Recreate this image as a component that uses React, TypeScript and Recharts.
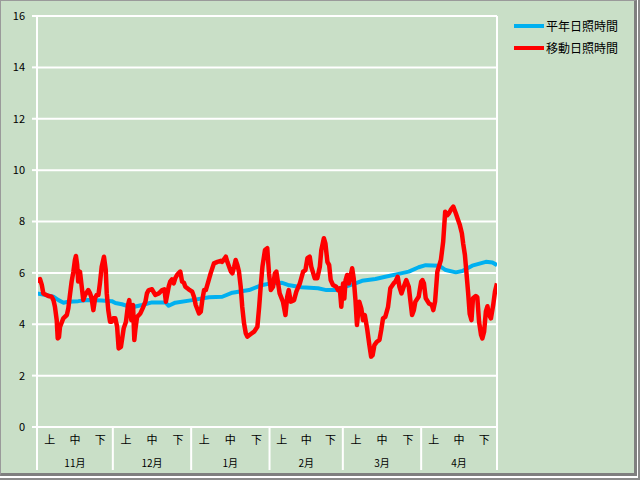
import { LineChart, Line, XAxis, YAxis, CartesianGrid, ReferenceLine } from 'recharts';

const monthNames = ['11月', '12月', '1月', '2月', '3月', '4月'];
const monthDays = [30, 31, 31, 29, 31, 30];
const decadeNames = ['上', '中', '下'];
const yTicks = [0, 2, 4, 6, 8, 10, 12, 14, 16];

// [day since Nov 1, hours]
const moving: [number, number][] = [
  [0, 5.66], [1.2, 5.76], [1.9, 5.53], [2.5, 5.2], [4.5, 5.1], [5.8, 5.07], [6.5, 4.94], [7.1, 4.68],
  [7.8, 4.16], [8.2, 3.45], [8.7, 3.5], [9.1, 3.9], [10.4, 4.23], [11.8, 4.36], [12.4, 4.62], [13.1, 5.2],
  [13.7, 5.66], [14.4, 6.05], [15.0, 6.5], [15.4, 6.66], [15.9, 6.3], [16.3, 5.66], [17.0, 6.05], [17.7, 5.46],
  [18.3, 4.94], [19.0, 5.14], [20.3, 5.33], [21.0, 5.2], [21.6, 5.02], [22.3, 4.55], [23.0, 5.02], [23.6, 5.14],
  [24.3, 5.14], [24.9, 5.6], [25.6, 6.24], [26.5, 6.63], [27.2, 6.11], [27.6, 5.2], [28.2, 4.55], [28.9, 4.1],
  [29.6, 4.1], [30.2, 4.23], [31.0, 4.23], [31.7, 3.9], [32.3, 3.06], [33.2, 3.12], [34.3, 3.84], [35.2, 4.1],
  [36.0, 4.75], [36.5, 4.94], [36.9, 4.55], [37.3, 4.16], [38.0, 4.75], [38.5, 3.39], [38.9, 3.78], [39.6, 4.29],
  [40.9, 4.42], [41.8, 4.62], [42.9, 4.88], [43.5, 5.2], [44.2, 5.33], [45.5, 5.36], [46.8, 5.14], [48.2, 5.2],
  [49.5, 5.33], [50.4, 5.36], [51.0, 4.88], [52.1, 5.46], [52.7, 5.66], [53.4, 5.75], [54.1, 5.59], [54.7, 5.79],
  [55.4, 5.92], [56.1, 6.0], [56.7, 6.05], [57.4, 5.66], [58.1, 5.62], [58.7, 5.46], [60.0, 5.36], [61.4, 5.27],
  [62.1, 5.07], [62.8, 4.75], [64.1, 4.42], [64.8, 4.49], [65.4, 4.94], [66.1, 5.33], [66.8, 5.33], [67.4, 5.53],
  [68.7, 5.98], [70.0, 6.37], [71.4, 6.43], [72.7, 6.47], [73.3, 6.43], [74.7, 6.63], [75.3, 6.43], [76.7, 6.05],
  [77.3, 5.98], [78.0, 6.24], [78.6, 6.5], [79.3, 6.3], [79.9, 6.05], [80.6, 5.46], [81.2, 4.68], [81.9, 4.04],
  [82.6, 3.65], [83.2, 3.52], [84.6, 3.62], [85.9, 3.71], [87.2, 3.9], [87.9, 4.68], [88.5, 5.46], [89.2, 6.24],
  [90.2, 6.89], [91.1, 6.96], [91.8, 5.98], [92.5, 5.33], [93.4, 5.46], [94.1, 5.98], [94.7, 6.05], [95.4, 5.59],
  [96.0, 5.2], [97.3, 4.88], [98.3, 4.36], [99.0, 5.07], [99.6, 5.33], [100.4, 4.88], [101.7, 4.94], [102.6, 5.27],
  [104.0, 5.59], [105.3, 6.05], [106.2, 6.11], [107.0, 6.57], [107.9, 6.63], [108.5, 6.24], [109.9, 5.79], [110.9, 5.79],
  [111.9, 6.24], [112.5, 6.89], [113.5, 7.35], [114.1, 7.15], [114.9, 6.43], [115.6, 6.3], [116.2, 5.72], [117.1, 5.53],
  [118.4, 5.46], [119.1, 5.33], [119.8, 5.4], [120.4, 4.68], [121.1, 5.59], [121.6, 5.0], [122.1, 5.72], [122.7, 5.92],
  [123.4, 5.59], [124.0, 5.85], [124.7, 6.18], [125.3, 5.79], [126.0, 4.94], [126.6, 3.97], [127.5, 4.88], [128.3, 4.62],
  [129.0, 4.16], [129.7, 4.36], [130.6, 3.84], [131.5, 3.19], [132.2, 2.74], [132.8, 2.8], [133.5, 3.19], [134.5, 3.32],
  [135.5, 3.39], [136.2, 3.78], [136.9, 4.23], [137.8, 4.29], [138.9, 4.68], [139.8, 5.4], [141.1, 5.59], [141.8, 5.66],
  [142.7, 5.85], [143.4, 5.46], [144.2, 5.2], [145.1, 5.46], [146.1, 5.72], [147.1, 5.46], [147.7, 4.94], [148.4, 4.36],
  [149.1, 4.55], [149.7, 4.88], [151.0, 5.07], [152.0, 5.66], [152.5, 5.72], [153.1, 5.59], [153.8, 5.01], [155.1, 4.81],
  [156.2, 4.75], [156.8, 4.55], [157.5, 4.88], [158.4, 6.05], [159.8, 6.5], [160.7, 7.21], [161.5, 8.38], [162.4, 8.25],
  [163.0, 8.32], [163.7, 8.45], [164.7, 8.58], [165.7, 8.32], [166.6, 8.06], [167.3, 7.86], [168.1, 7.54], [168.6, 7.15],
  [169.3, 6.7], [170.0, 5.9], [170.6, 5.2], [171.2, 4.4], [171.9, 4.16], [172.5, 5.01], [173.6, 5.1], [174.2, 5.05],
  [174.9, 4.1], [175.7, 3.58], [176.2, 3.45], [176.9, 3.71], [177.6, 4.5], [178.2, 4.7], [178.9, 4.36], [179.6, 4.23],
  [180.5, 4.75], [181.2, 5.27], [182.0, 5.59],
];

const normal: [number, number][] = [
  [0, 5.2], [3, 5.15], [6.5, 5.07], [8.5, 4.94], [10.5, 4.84], [12.4, 4.88], [16.3, 4.9], [20.3, 4.94],
  [25.6, 4.92], [29.6, 4.9], [31, 4.83], [33.6, 4.78], [37.6, 4.66], [41.6, 4.75], [45.5, 4.85], [50.8, 4.85],
  [52.1, 4.72], [54.7, 4.84], [61.4, 4.94], [68.1, 5.05], [73.3, 5.07], [77.3, 5.23], [83.9, 5.33], [89.2, 5.53],
  [92.5, 5.59], [96.7, 5.62], [99.3, 5.53], [104.6, 5.44], [111.2, 5.4], [114.5, 5.33], [117.9, 5.33], [121.8, 5.46],
  [126, 5.59], [128.6, 5.69], [133.9, 5.76], [137.8, 5.85], [143.1, 5.96], [147.1, 6.05], [151.0, 6.22], [153.8, 6.3],
  [159.1, 6.28], [161.7, 6.11], [165.7, 6.02], [168.3, 6.07], [172.2, 6.28], [177.6, 6.43], [180.2, 6.4], [182, 6.3],
];

const movingData = moving.map(([day, v]) => ({ day, v }));
const normalData = normal.map(([day, v]) => ({ day, v }));

// month boundaries and decade centers on the day axis
const bounds: number[] = [0];
monthDays.forEach((d, i) => bounds.push(bounds[i] + d));
const totalDays = bounds[bounds.length - 1];

const tickInfo = new Map<number, { kind: 'sep' } | { kind: 'dec'; text: string; month?: string }>();
bounds.forEach((b) => tickInfo.set(b, { kind: 'sep' }));
monthDays.forEach((d, i) => {
  decadeNames.forEach((name, j) => {
    const c = bounds[i] + (d * (2 * j + 1)) / 6;
    tickInfo.set(c, { kind: 'dec', text: name, month: j === 1 ? monthNames[i] : undefined });
  });
});
const xTicks = Array.from(tickInfo.keys()).sort((a, b) => a - b);

const GREEN = '#c9dfc7';
const FONT = '"Noto Sans CJK JP", "Noto Sans", sans-serif';

function XTick(props: any) {
  const { x, y, payload } = props;
  const info = tickInfo.get(payload.value);
  if (!info) return <g />;
  if (info.kind === 'sep') {
    return <line x1={x} y1={y} x2={x} y2={y + 43} stroke="#ffffff" strokeWidth={2} />;
  }
  return (
    <g>
      <text x={x} y={y + 12} textAnchor="middle" dominantBaseline="central" fontSize={11} fill="#000" fontFamily={FONT}>
        {info.text}
      </text>
      {info.month && (
        <text x={x} y={y + 35} textAnchor="middle" dominantBaseline="central" fontSize={10} fill="#000" fontFamily={FONT}>
          {info.month}
        </text>
      )}
    </g>
  );
}

function LegendRow({ color, label, top }: { color: string; label: string; top: number }) {
  return (
    <div style={{ position: 'absolute', left: 514, top, height: 16, display: 'flex', alignItems: 'center' }}>
      <div style={{ width: 30, height: 4, background: color }} />
      <span style={{ marginLeft: 2, fontSize: 12, fontFamily: FONT, color: '#000', lineHeight: '16px' }}>{label}</span>
    </div>
  );
}

export default function App() {
  return (
    <div style={{ position: 'absolute', left: 0, top: 0, width: 640, height: 480, background: '#ffffff' }}>
      <div
        style={{
          position: 'absolute',
          left: 0,
          top: 0,
          width: 640,
          height: 480,
          boxSizing: 'border-box',
          borderRight: '2px solid #8a8a8a',
          borderBottom: '2px solid #8a8a8a',
        }}
      />
      <div
        style={{
          position: 'absolute',
          left: 0,
          top: 0,
          width: 637,
          height: 476,
          boxSizing: 'border-box',
          background: GREEN,
          borderRight: '3px solid #7f7f7f',
          borderBottom: '3px solid #7f7f7f',
          borderLeft: '1px solid #9a9a9a',
          borderTop: '1px solid #9a9a9a',
        }}
      />
      <div style={{ position: 'absolute', left: 0, top: 0 }}>
        <LineChart width={640} height={480} margin={{ top: 16, right: 143, bottom: 10, left: 0 }}>
          <CartesianGrid vertical={false} stroke="#ffffff" strokeWidth={2} />
          <XAxis
            type="number"
            dataKey="day"
            domain={[0, totalDays]}
            ticks={xTicks}
            interval={0}
            height={43}
            tickSize={0}
            tickMargin={0}
            tickLine={false}
            axisLine={{ stroke: '#ffffff', strokeWidth: 2 }}
            tick={<XTick />}
            allowDataOverflow
          />
          <YAxis
            type="number"
            domain={[0, 16]}
            ticks={yTicks}
            width={37}
            tickSize={5}
            tickMargin={7}
            axisLine={{ stroke: '#ffffff', strokeWidth: 2 }}
            tickLine={{ stroke: '#ffffff', strokeWidth: 2 }}
            tick={{ fill: '#000', fontSize: 11, fontFamily: FONT }}
          />
          <ReferenceLine x={totalDays} stroke="#ffffff" strokeWidth={2} />
          <Line
            data={normalData}
            dataKey="v"
            type="linear"
            stroke="#00b0f0"
            strokeWidth={4}
            strokeLinejoin="round"
            dot={false}
            isAnimationActive={false}
          />
          <Line
            data={movingData}
            dataKey="v"
            type="linear"
            stroke="#ff0000"
            strokeWidth={4.5}
            strokeLinejoin="round"
            dot={false}
            isAnimationActive={false}
          />
        </LineChart>
      </div>
      <LegendRow color="#00b0f0" label="平年日照時間" top={18} />
      <LegendRow color="#ff0000" label="移動日照時間" top={40} />
    </div>
  );
}
